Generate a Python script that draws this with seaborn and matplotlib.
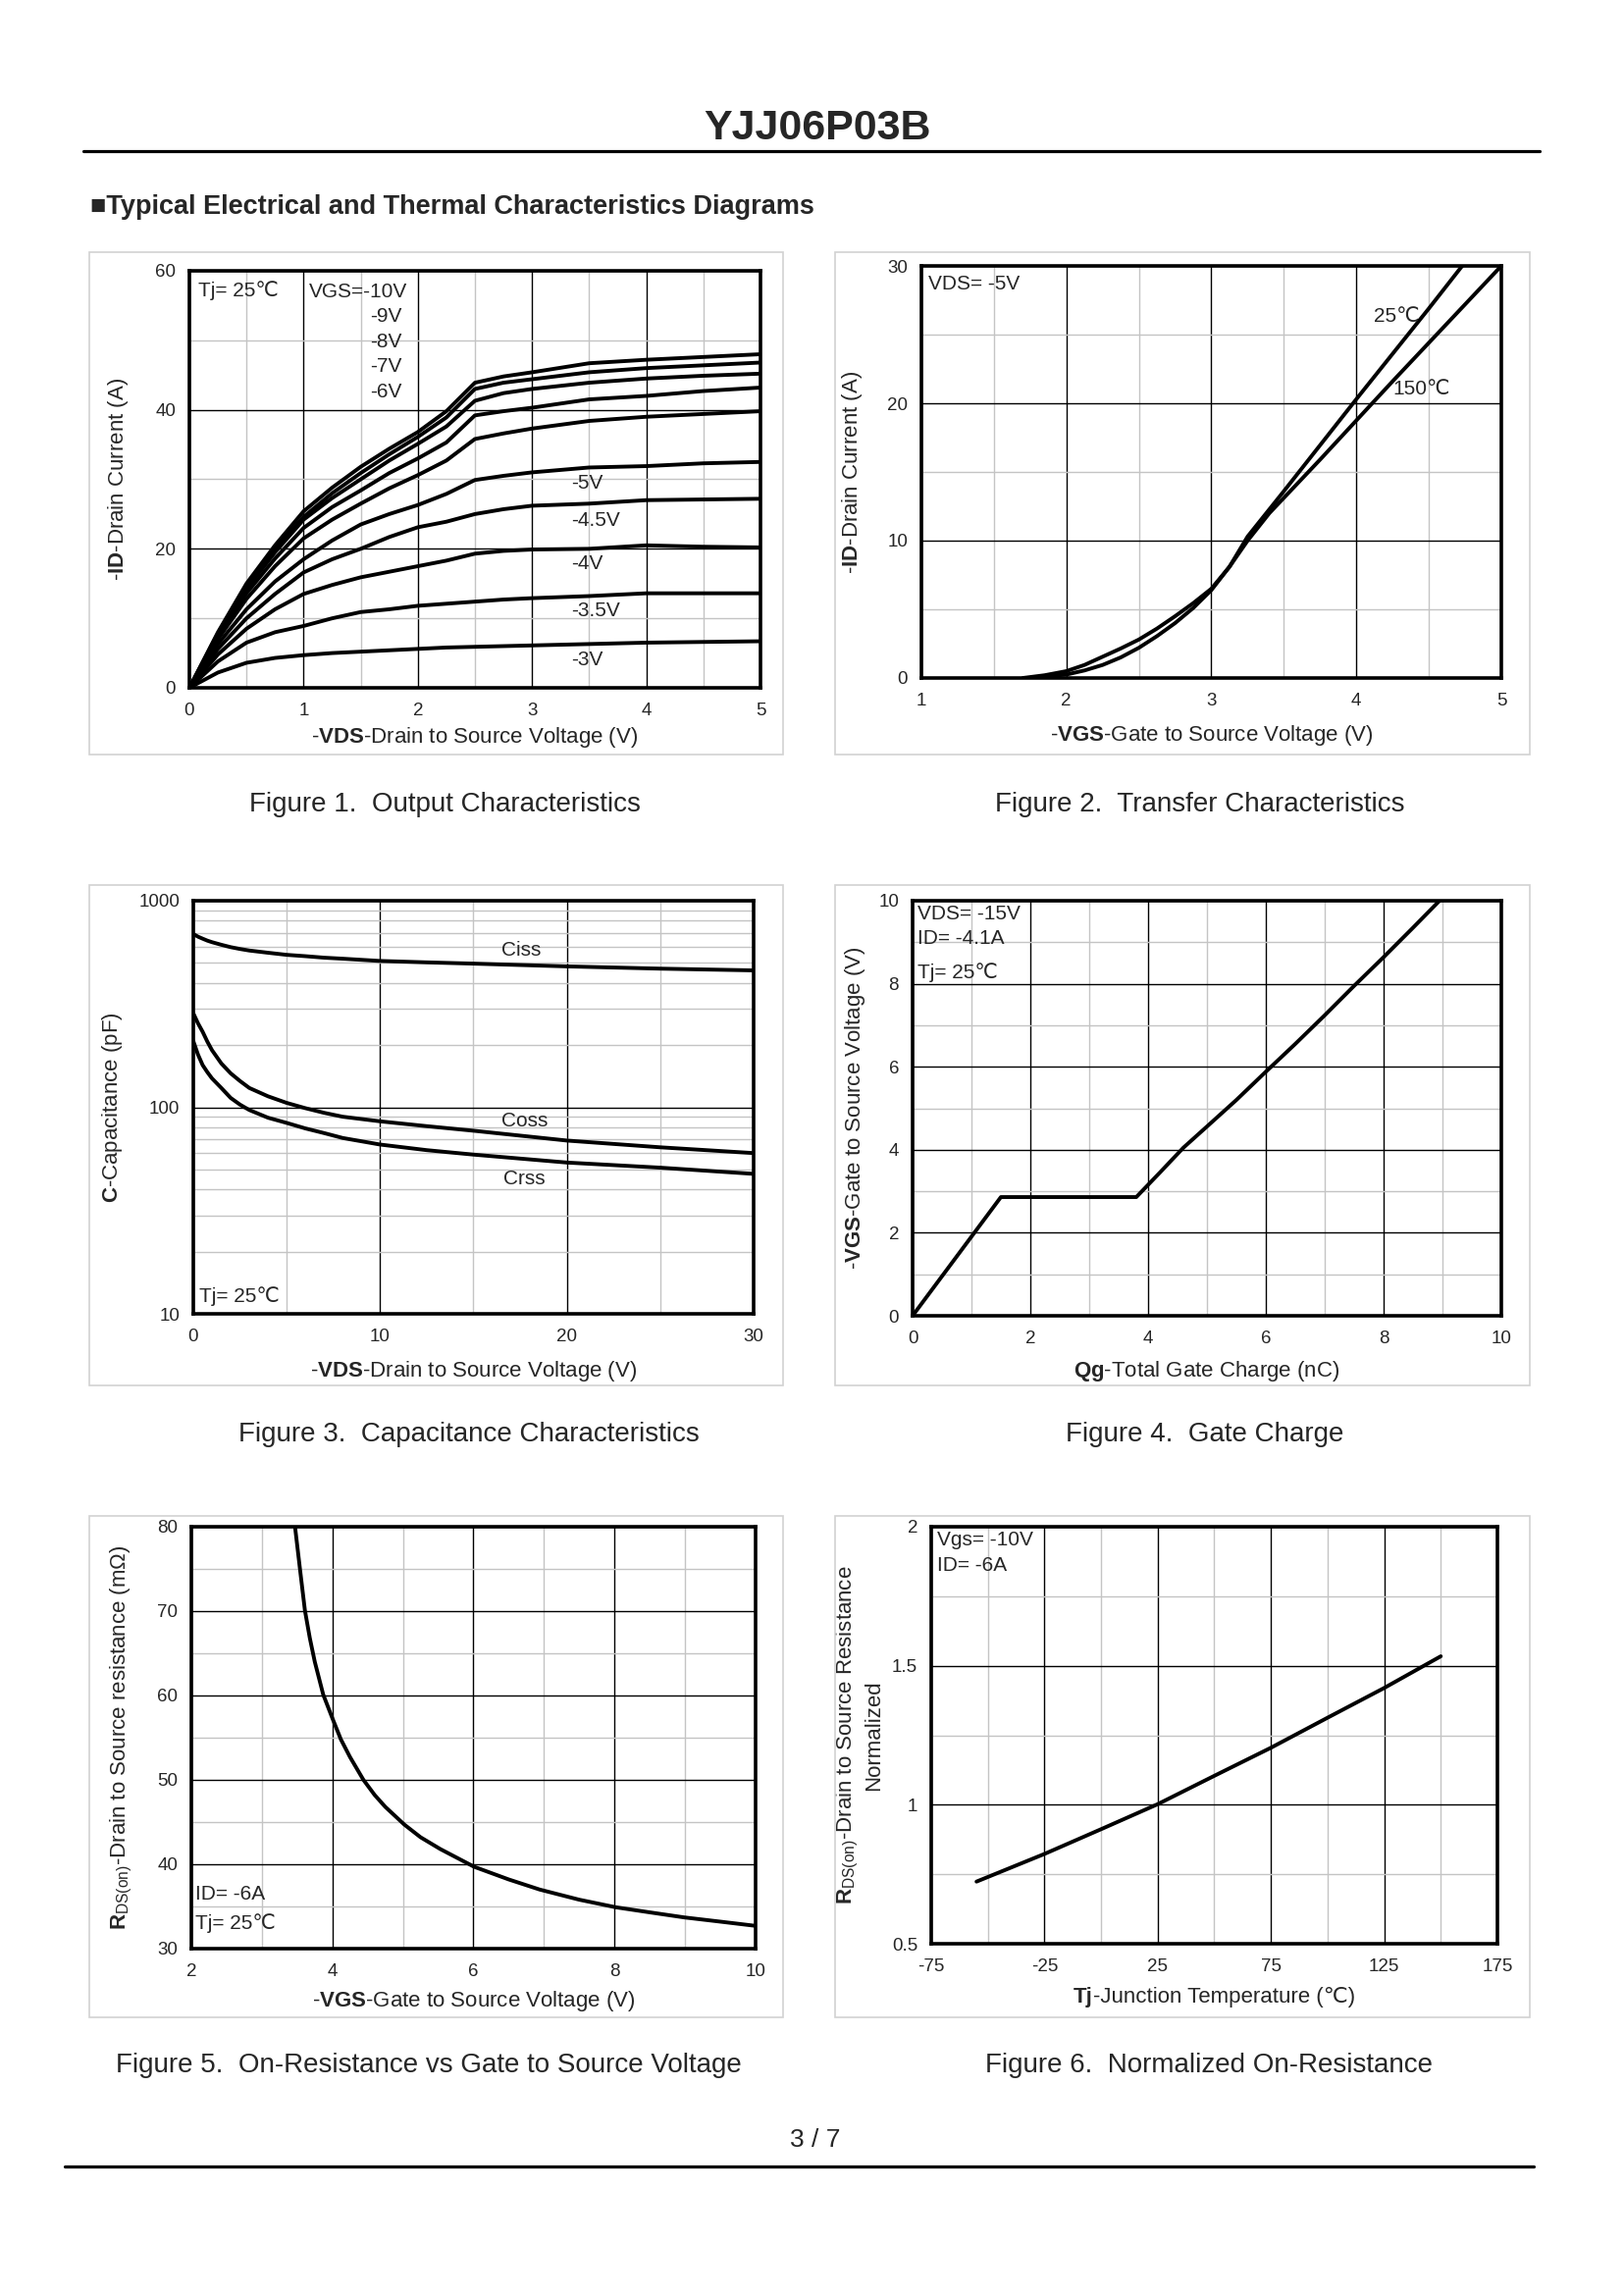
import matplotlib
matplotlib.use("Agg")
import matplotlib.pyplot as plt
import matplotlib.ticker as mticker
from matplotlib.lines import Line2D
from matplotlib.patches import Rectangle
from matplotlib.offsetbox import TextArea, HPacker, AnnotationBbox
import pandas as pd
import seaborn as sns

# ---- data ----
# Fig 1: output characteristics
vds_out = [0, 0.25, 0.5, 0.75, 1.0, 1.25, 1.5, 1.75, 2.0, 2.25, 2.5, 2.75, 3.0, 3.5, 4.0, 4.5, 5.0]
id_m10 = [0, 8.0, 15.0, 20.5, 25.4, 28.8, 31.8, 34.4, 36.8, 39.8, 43.9, 44.8, 45.4, 46.7, 47.2, 47.6, 48.0]
id_m9 = [0, 7.8, 14.6, 20.0, 24.6, 28.0, 30.9, 33.6, 36.1, 38.9, 43.0, 43.9, 44.4, 45.4, 46.0, 46.4, 46.8]
id_m8 = [0, 7.6, 14.2, 19.5, 24.2, 27.3, 30.0, 32.7, 35.1, 37.6, 41.3, 42.4, 43.0, 43.9, 44.5, 44.9, 45.2]
id_m7 = [0, 7.3, 13.6, 18.6, 23.0, 26.0, 28.4, 30.9, 33.0, 35.3, 39.2, 39.8, 40.3, 41.5, 42.0, 42.7, 43.2]
id_m6 = [0, 7.0, 12.8, 17.5, 21.5, 24.2, 26.5, 28.7, 30.6, 32.7, 35.8, 36.6, 37.3, 38.4, 39.0, 39.4, 39.8]
id_m5 = [0, 6.3, 11.3, 15.3, 18.5, 21.2, 23.5, 25.0, 26.3, 27.9, 29.9, 30.5, 31.0, 31.7, 31.9, 32.3, 32.5]
id_m45 = [0, 5.6, 10.0, 13.5, 16.6, 18.5, 20.0, 21.7, 23.1, 23.9, 25.0, 25.7, 26.2, 26.5, 27.0, 27.1, 27.2]
id_m4 = [0, 4.8, 8.5, 11.3, 13.5, 14.8, 15.9, 16.7, 17.5, 18.3, 19.3, 19.7, 19.9, 20.0, 20.5, 20.3, 20.2]
id_m35 = [0, 3.8, 6.5, 8.0, 8.9, 10.0, 10.9, 11.3, 11.8, 12.1, 12.4, 12.7, 12.9, 13.2, 13.6, 13.6, 13.6]
id_m3 = [0, 2.2, 3.6, 4.3, 4.7, 5.0, 5.2, 5.4, 5.6, 5.8, 5.9, 6.0, 6.1, 6.3, 6.5, 6.6, 6.7]
vgs_names = ["-10V", "-9V", "-8V", "-7V", "-6V", "-5V", "-4.5V", "-4V", "-3.5V", "-3V"]
id_curves = [id_m10, id_m9, id_m8, id_m7, id_m6, id_m5, id_m45, id_m4, id_m35, id_m3]

# Fig 2: transfer characteristics
vgs_25 = [1.75, 2.0, 2.125, 2.25, 2.375, 2.5, 2.625, 2.75, 2.875, 3.0, 3.125, 3.25,
          3.5, 3.75, 4.0, 4.25, 4.5, 4.73]
id_25 = [0, 0.25, 0.55, 0.95, 1.5, 2.2, 3.05, 4.0, 5.1, 6.4, 8.1, 10.3,
         13.6, 16.95, 20.3, 23.6, 26.9, 30.0]
vgs_150 = [1.7, 1.85, 2.0, 2.125, 2.25, 2.375, 2.5, 2.625, 2.75, 2.875, 3.0, 3.125, 3.25,
           3.4, 3.75, 4.0, 4.25, 4.5, 4.75, 5.0]
id_150 = [0, 0.2, 0.5, 0.95, 1.55, 2.15, 2.8, 3.6, 4.5, 5.45, 6.5, 8.1, 10.0,
          12.0, 15.9, 18.75, 21.6, 24.4, 27.2, 30.0]

# Fig 3: capacitance
vds_cap = [0, 0.25, 0.5, 0.75, 1, 1.5, 2, 2.5, 3, 4, 5, 6, 7, 8, 10, 12.5, 15, 20, 25, 30]
ciss = [690, 670, 655, 641, 630, 612, 596, 584, 574, 560, 547, 539, 530, 524, 511, 503, 496, 481, 469, 460]
coss = [285, 255, 232, 208, 189, 163, 146, 134, 124, 113, 105, 99, 94, 90, 85.5, 81, 77, 69, 64, 60]
crss = [209, 180, 160, 148, 138, 124, 111, 103, 97, 89, 84, 79, 75, 71, 66, 62, 59, 54, 51, 47.6]

# Fig 4: gate charge
qg = [0, 1.5, 3.8, 4.2, 4.6, 5.0, 5.5, 6.0, 6.5, 7.0, 7.5, 8.0, 8.5, 8.95]
vgs_qg = [0, 2.86, 2.86, 3.45, 4.05, 4.56, 5.2, 5.88, 6.55, 7.24, 7.95, 8.64, 9.35, 10.0]

# Fig 5: on-resistance vs VGS
vgs_rds = [3.47, 3.54, 3.61, 3.68, 3.75, 3.87, 4.0, 4.12, 4.25, 4.44, 4.6, 4.75, 5.02, 5.25,
           5.53, 6.01, 6.5, 6.94, 7.5, 8.02, 8.5, 8.99, 9.5, 10.0]
rds = [80, 75.0, 70.1, 66.8, 64.0, 60.1, 57.3, 54.8, 52.7, 50.0, 48.2, 46.8, 44.7, 43.2,
       41.8, 39.7, 38.2, 37.0, 35.8, 34.9, 34.3, 33.7, 33.2, 32.7]

# Fig 6: normalized on-resistance vs Tj
tj = [-55, -25, 0, 25, 50, 75, 100, 125, 150]
rds_norm = [0.7235, 0.823, 0.912, 1.002, 1.104, 1.205, 1.313, 1.42, 1.534]

# ---- style ----
sns.set_style("white")
plt.rcParams["font.family"] = ["Liberation Sans", "DejaVu Sans"]
plt.rcParams["mathtext.fontset"] = "custom"
plt.rcParams["mathtext.rm"] = "Liberation Sans"
plt.rcParams["mathtext.bf"] = "Liberation Sans:bold"
plt.rcParams["mathtext.it"] = "Liberation Sans:italic"
plt.rcParams["axes.unicode_minus"] = False

W, H = 1656, 2339
fig = plt.figure(figsize=(W / 100, H / 100), dpi=100)
fig.patch.set_facecolor("white")

LW = 2.8
TICK_FS = 13.5
LABEL_FS = 16
NOTE_FS = 15


def fx(x):
    return x / W


def fy(y):
    return 1 - y / H


def make_axes(x0, y0, x1, y1):
    return fig.add_axes([fx(x0), fy(y1), fx(x1 - x0), (y1 - y0) / H])


def style_axes(ax, xlim, ylim, xmaj, xmin, ymaj, ymin, log=False):
    ax.set_xlim(*xlim)
    ax.set_ylim(*ylim)
    ax.xaxis.set_major_locator(mticker.MultipleLocator(xmaj))
    ax.xaxis.set_minor_locator(mticker.MultipleLocator(xmin))
    if not log:
        ax.yaxis.set_major_locator(mticker.MultipleLocator(ymaj))
        ax.yaxis.set_minor_locator(mticker.MultipleLocator(ymin))
    ax.set_axisbelow(True)
    ax.grid(True, which="minor", color="#c4c4c4", lw=1.0)
    ax.grid(True, which="major", color="black", lw=1.0)
    for s in ax.spines.values():
        s.set_linewidth(2.6)
        s.set_color("black")
        s.set_zorder(5)
    ax.tick_params(which="both", length=0, labelsize=TICK_FS)
    ax.tick_params(axis="x", pad=11)
    ax.tick_params(axis="y", pad=10)


def labels(ax, xl, yl, xl_y, yl_x):
    pos = ax.get_position()
    if xl is not None:
        ax.set_xlabel(xl, fontsize=LABEL_FS, va="center")
        ax.xaxis.set_label_coords(pos.x0 + pos.width / 2, fy(xl_y), transform=fig.transFigure)
    ax.set_ylabel(yl, fontsize=LABEL_FS, va="center")
    ax.yaxis.set_label_coords(fx(yl_x), pos.y0 + pos.height / 2, transform=fig.transFigure)


def note(ax, x, y, s):
    ax.text(x, y, s, fontsize=NOTE_FS, ha="left", va="center", zorder=6)


# ---- page furniture ----
fig.text(fx(833), fy(131), "YJJ06P03B", fontsize=31, fontweight="bold", ha="center", va="center")
fig.add_artist(Line2D([fx(85), fx(1569)], [fy(154), fy(154)], color="black", lw=2.3,
                      transform=fig.transFigure))
fig.text(fx(92), fy(211), "■Typical Electrical and Thermal Characteristics Diagrams",
         fontsize=19.5, fontweight="bold", ha="left", va="center")
fig.text(fx(831), fy(2181), "3 / 7", fontsize=19, ha="center", va="center")
fig.add_artist(Line2D([fx(66), fx(1563)], [fy(2208), fy(2208)], color="black", lw=2.3,
                      transform=fig.transFigure))

boxes = [(91, 257, 798, 769), (851, 257, 1559, 769),
         (91, 902, 798, 1412), (851, 902, 1559, 1412),
         (91, 1545, 798, 2056), (851, 1545, 1559, 2056)]
for bx0, by0, bx1, by1 in boxes:
    fig.add_artist(Rectangle((fx(bx0), fy(by1)), fx(bx1 - bx0), (by1 - by0) / H,
                             fill=False, edgecolor="#d2d2d2", lw=1.2, transform=fig.transFigure))

captions = [(453, 820, "Figure 1.  Output Characteristics"),
            (1223, 820, "Figure 2.  Transfer Characteristics"),
            (478, 1462, "Figure 3.  Capacitance Characteristics"),
            (1228, 1462, "Figure 4.  Gate Charge"),
            (437, 2105, "Figure 5.  On-Resistance vs Gate to Source Voltage"),
            (1232, 2105, "Figure 6.  Normalized On-Resistance")]
for cx, cy, s in captions:
    fig.text(fx(cx), fy(cy), s, fontsize=20, ha="center", va="center")

# ---- Figure 1 ----
ax1 = make_axes(193, 276, 775, 701)
df1 = pd.DataFrame({
    "vds": vds_out * len(id_curves),
    "id": [v for c in id_curves for v in c],
    "vgs": [n for n in vgs_names for _ in vds_out],
})
sns.lineplot(data=df1, x="vds", y="id", hue="vgs", palette=["black"] * len(vgs_names),
             estimator=None, sort=False, legend=False, lw=LW, ax=ax1)
style_axes(ax1, (0, 5), (0, 60), 1, 0.5, 20, 10)
labels(ax1, r"-$\mathbf{VDS}$-Drain to Source Voltage (V)",
       r"-$\mathbf{ID}$-Drain Current (A)", 752, 121)
note(ax1, 0.08, 57.2, "Tj= 25℃")
note(ax1, 1.05, 57.0, "VGS=-10V")
for yv, s in zip([53.4, 49.8, 46.3, 42.5], ["-9V", "-8V", "-7V", "-6V"]):
    note(ax1, 1.58, yv, s)
for yv, s in zip([29.4, 24.1, 17.8, 11.1, 4.0], ["-5V", "-4.5V", "-4V", "-3.5V", "-3V"]):
    note(ax1, 3.34, yv, s)

# ---- Figure 2 ----
ax2 = make_axes(939, 271, 1530, 691)
sns.lineplot(x=vgs_25, y=id_25, color="black", lw=LW, estimator=None, sort=False, ax=ax2)
sns.lineplot(x=vgs_150, y=id_150, color="black", lw=LW, estimator=None, sort=False, ax=ax2)
style_axes(ax2, (1, 5), (0, 30), 1, 0.5, 10, 5)
labels(ax2, r"-$\mathbf{VGS}$-Gate to Source Voltage (V)",
       r"-$\mathbf{ID}$-Drain Current (A)", 750, 869)
note(ax2, 1.05, 28.7, "VDS= -5V")
note(ax2, 4.12, 26.3, "25℃")
note(ax2, 4.25, 21.0, "150℃")

# ---- Figure 3 ----
ax3 = make_axes(197, 918, 768, 1339)
for cv in (ciss, coss, crss):
    sns.lineplot(x=vds_cap, y=cv, color="black", lw=LW, estimator=None, sort=False, ax=ax3)
ax3.set_yscale("log")
ax3.yaxis.set_major_locator(mticker.FixedLocator([10, 100, 1000]))
ax3.yaxis.set_major_formatter(mticker.FixedFormatter(["10", "100", "1000"]))
ax3.yaxis.set_minor_locator(mticker.LogLocator(base=10, subs=range(2, 10)))
ax3.yaxis.set_minor_formatter(mticker.NullFormatter())
style_axes(ax3, (0, 30), (10, 1000), 10, 5, None, None, log=True)
labels(ax3, r"-$\mathbf{VDS}$-Drain to Source Voltage (V)",
       r"$\mathbf{C}$-Capacitance (pF)", 1397, 115)
note(ax3, 16.5, 574, "Ciss")
note(ax3, 16.5, 86, "Coss")
note(ax3, 16.6, 45, "Crss")
note(ax3, 0.3, 12.2, "Tj= 25℃")

# ---- Figure 4 ----
ax4 = make_axes(930, 918, 1530, 1341)
sns.lineplot(x=qg, y=vgs_qg, color="black", lw=LW, estimator=None, sort=False, ax=ax4)
style_axes(ax4, (0, 10), (0, 10), 2, 1, 2, 1)
labels(ax4, r"$\mathbf{Qg}$-Total Gate Charge (nC)",
       r"-$\mathbf{VGS}$-Gate to Source Voltage (V)", 1398, 872)
note(ax4, 0.08, 9.68, "VDS= -15V")
note(ax4, 0.08, 9.08, "ID= -4.1A")
note(ax4, 0.08, 8.28, "Tj= 25℃")

# ---- Figure 5 ----
ax5 = make_axes(195, 1556, 770, 1986)
sns.lineplot(x=vgs_rds, y=rds, color="black", lw=LW, estimator=None, sort=False, ax=ax5)
style_axes(ax5, (2, 10), (30, 80), 2, 1, 10, 5)
labels(ax5, r"-$\mathbf{VGS}$-Gate to Source Voltage (V)",
       r"$\mathbf{R}_{\mathrm{DS(on)}}$-Drain to Source resistance (mΩ)", 2040, 124)
note(ax5, 2.06, 36.5, "ID= -6A")
note(ax5, 2.06, 33.0, "Tj= 25℃")

# ---- Figure 6 ----
ax6 = make_axes(949, 1556, 1526, 1981)
sns.lineplot(x=tj, y=rds_norm, color="black", lw=LW, estimator=None, sort=False, ax=ax6)
style_axes(ax6, (-75, 175), (0.5, 2), 50, 25, 0.5, 0.25)
ax6.yaxis.set_major_formatter(mticker.FuncFormatter(lambda v, p: f"{v:g}"))
labels(ax6, None,
       r"$\mathbf{R}_{\mathrm{DS(on)}}$-Drain to Source Resistance" + "\nNormalized", 2036, 876)
ax6.set_xticks([-75, -25, 25, 75, 125, 175])
ax6.xaxis.set_minor_locator(mticker.FixedLocator([-50, 0, 50, 100, 150]))
note(ax6, -72.6, 1.952, "Vgs= -10V")
note(ax6, -72.6, 1.862, "ID= -6A")

# x label with the degree-Celsius sign: plain text pieces (mathtext font lacks the glyph)
tj_label = HPacker(children=[TextArea("Tj", textprops=dict(fontsize=LABEL_FS, fontweight="bold")),
                             TextArea("-Junction Temperature (℃)", textprops=dict(fontsize=LABEL_FS))],
                   align="baseline", pad=0, sep=0)
pos6 = ax6.get_position()
fig.add_artist(AnnotationBbox(tj_label, (pos6.x0 + pos6.width / 2, fy(2036)),
                              xycoords=fig.transFigure, frameon=False, box_alignment=(0.5, 0.5)))

fig.savefig("out.png", dpi=100, facecolor="white")
